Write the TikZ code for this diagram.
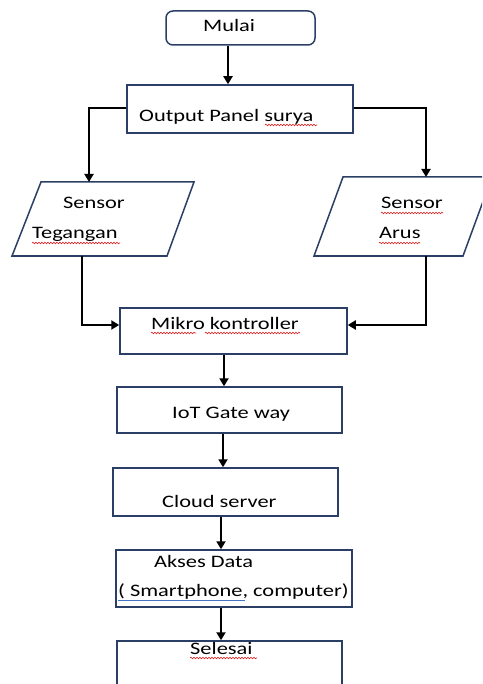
\documentclass[tikz,border=0pt]{standalone}
\usepackage{fontspec}
\setmainfont{Carlito}[FakeStretch=1.28]
\usetikzlibrary{arrows.meta,decorations.pathmorphing}
\definecolor{boxc}{HTML}{2B3F66}
\definecolor{wavy}{HTML}{E02020}
\definecolor{ulblue}{HTML}{4472C4}
\begin{document}
\begin{tikzpicture}[x=1pt,y=-1pt,
  box/.style={draw=boxc,line width=1.5pt,rectangle,inner sep=0pt},
  para/.style={draw=boxc,line width=1.5pt},
  txt/.style={anchor=base west,inner sep=0pt,font=\fontsize{17.5}{21}\selectfont},
  arr/.style={line width=2pt,-{Triangle[length=8pt,width=9pt]}},
  spell/.style={draw=wavy,line width=0.6pt,decorate,decoration={snake,amplitude=0.8pt,segment length=3pt}},
  blueline/.style={draw=ulblue,line width=0.8pt}]
\useasboundingbox (0,0) rectangle (482,684);
\fill[white] (0,0) rectangle (482,684);
\clip (0,0) rectangle (482,684);

% boxes
\node[box,rounded corners=7pt,minimum width=149pt,minimum height=34pt] (mulai) at (240.5,28) {};
\node[box,minimum width=226pt,minimum height=48pt] (output) at (240,109) {};
\node[box,minimum width=227pt,minimum height=46pt] (mikro) at (233.5,331) {};
\node[box,minimum width=225pt,minimum height=46pt] (iot) at (229.5,410) {};
\node[box,minimum width=225pt,minimum height=48pt] (cloud) at (225.5,492) {};
\node[box,minimum width=236pt,minimum height=57pt] (akses) at (234,578.5) {};
\node[box,minimum width=225pt,minimum height=64pt] (selesai) at (229.5,673) {};

% parallelograms
\draw[para] (41,182) -- (194,182) -- (167,256) -- (12,256) -- cycle;
\draw[para] (343,177) -- (492,177) -- (463,256) -- (314,256) -- cycle;
\coordinate (slt) at (89,182);
\coordinate (slb) at (82,256);
\coordinate (srt) at (426,177);
\coordinate (srb) at (426,256);

% texts
\node[txt] (t1) at (203,32) {Mulai};
\node[txt] (t2) at (139,122) {Output Panel surya};
\node[txt] (t3) at (63,209) {Sensor};
\node[txt] (t4) at (32,239) {Tegangan};
\node[txt] (t5) at (381,209) {Sensor};
\node[txt] (t6) at (379,239) {Arus};
\node[txt] (t7) at (151,329) {Mikro kontroller};
\node[txt] (t8) at (172,418) {IoT Gate way};
\node[txt] (t9) at (162,507) {Cloud server};
\node[txt] (t10) at (154,567) {Akses Data};
\node[txt] (t11) at (118,596) {( Smartphone, computer)};
\node[txt] (t12) at (190,654) {Selesai};

% spell-check underlines
\draw[spell] (265,125) -- (317,125);
\draw[spell] (32,243) -- (120,243);
\draw[spell] (381,213) -- (443,213);
\draw[spell] (379,243) -- (420,243);
\draw[spell] (151,333) -- (196,333);
\draw[spell] (205,333) -- (300,333);
\draw[spell] (190,658) -- (257,658);
\draw[blueline] (118,600) -- (245,600);

% connectors
\draw[arr] ([xshift=-12.5pt]mulai.south) -- ([xshift=-12pt]output.north);
\draw[arr] ([yshift=1pt]output.west) -| (slt);
\draw[arr] ([yshift=1pt]output.east) -| (srt);
\draw[arr] (slb) |- ([yshift=6pt]mikro.west);
\draw[arr] (srb) |- ([yshift=6pt]mikro.east);
\draw[arr] ([xshift=-9.5pt]mikro.south) -- ([xshift=-5.5pt]iot.north);
\draw[arr] ([xshift=-6.5pt]iot.south) -- ([xshift=-2.5pt]cloud.north);
\draw[arr] ([xshift=-4.5pt]cloud.south) -- ([xshift=-13pt]akses.north);
\draw[arr] ([xshift=-13pt]akses.south) -- ([xshift=-8.5pt]selesai.north);
\end{tikzpicture}
\end{document}
